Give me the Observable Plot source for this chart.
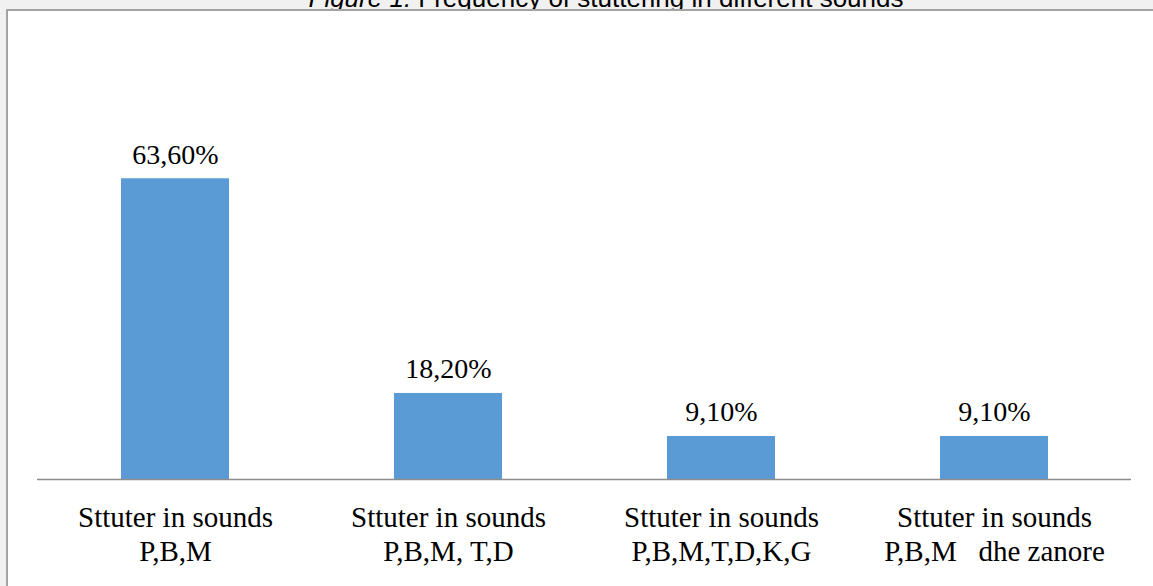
<!DOCTYPE html>
<html>
<head>
<meta charset="utf-8">
<script src="https://cdn.jsdelivr.net/npm/d3@7"></script>
<script src="https://cdn.jsdelivr.net/npm/@observablehq/plot@0.6"></script>
<style>
  html, body { margin: 0; padding: 0; width: 1153px; height: 586px; overflow: hidden; background: #f1f1f1; }
  #title { position: absolute; left: 206px; width: 800px; top: -15.5px; text-align: center;
    font-family: "Liberation Sans", Arial, sans-serif; font-size: 26px; line-height: 26px; color: #000; white-space: nowrap; }
  #box { position: absolute; left: 6px; top: 9px; width: 1147px; height: 577px; background: #fff;
    border-left: 2px solid #a3a3a3; border-top: 2px solid #a3a3a3; z-index: 1; }
  #chart svg { display: block; }
</style>
</head>
<body>
<div id="title"><i>Figure 1.</i> Frequency of stuttering in different sounds</div>
<div id="box"><div id="chart"></div></div>
<script>
const categories = [
  "Sttuter in sounds\nP,B,M",
  "Sttuter in sounds\nP,B,M, T,D",
  "Sttuter in sounds\nP,B,M,T,D,K,G",
  "Sttuter in sounds\nP,B,M   dhe zanore"
];
const values = [63.6, 18.2, 9.1, 9.1];
const valueLabels = ["63,60%", "18,20%", "9,10%", "9,10%"];

const data = categories.map((c, i) => ({category: c, value: values[i], label: valueLabels[i]}));

const chart = Plot.plot({
  width: 1145,
  height: 575,
  marginLeft: 29,
  marginRight: 22,
  marginTop: 137,
  marginBottom: 107,
  style: {fontFamily: "'Liberation Serif', 'Times New Roman', serif", background: "#fff", color: "#000"},
  x: {domain: categories, paddingInner: 0.605, paddingOuter: 0.3025, label: null},
  y: {domain: [0, 70], axis: null},
  marks: [
    Plot.barY(data, {x: "category", y: "value", fill: "#5b9bd5"}),
    Plot.ruleY([0], {stroke: "#8c8c8c", strokeWidth: 1.5}),
    Plot.text(data, {x: "category", y: "value", text: "label", lineAnchor: "bottom", dy: -15,
      fontSize: 28, fill: "#000"}),
    Plot.axisX({tickSize: 0, tickPadding: 23, fontSize: 29, lineHeight: 1.17, lineAnchor: "top", fill: "#000", label: null})
  ]
});
document.getElementById("chart").appendChild(chart);
</script>
</body>
</html>
